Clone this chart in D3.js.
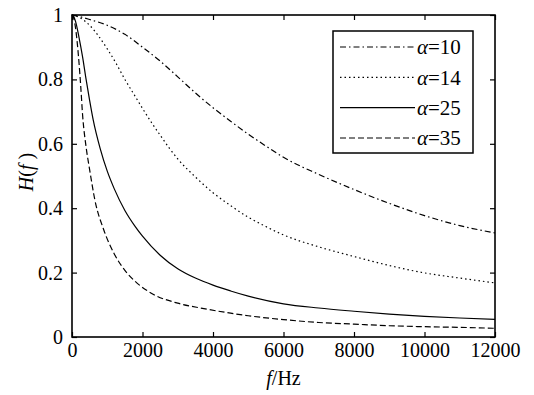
<!DOCTYPE html>
<html>
<head>
<meta charset="utf-8">
<script src="https://cdn.jsdelivr.net/npm/d3@7"></script>
</head>
<body style="margin:0">
<script>
// tick values and labels
const xTicks = [0, 2000, 4000, 6000, 8000, 10000, 12000];
const yTicks = [0, 0.2, 0.4, 0.6, 0.8, 1];
const yTickLabels = ["0", "0.2", "0.4", "0.6", "0.8", "1"];

// legend names
const alphaNames = ["10", "14", "25", "35"];

// alpha = 10 (dash-dot)
const f10 = [0, 250, 500, 1000, 1500, 2000, 2500, 3000, 3500, 4000, 4500, 5000, 5500, 6000, 7000, 8000, 9000, 10000, 11000, 12000];
const h10 = [1.0, 0.994, 0.986, 0.968, 0.94, 0.90, 0.857, 0.808, 0.758, 0.712, 0.67, 0.63, 0.593, 0.558, 0.505, 0.458, 0.415, 0.377, 0.346, 0.323];

// alpha = 14 (dotted)
const f14 = [0, 250, 500, 750, 1000, 1250, 1500, 1750, 2000, 2250, 2500, 2750, 3000, 3500, 4000, 4500, 5000, 5500, 6000, 7000, 8000, 9000, 10000, 11000, 12000];
const h14 = [1.0, 0.99, 0.968, 0.935, 0.895, 0.85, 0.80, 0.755, 0.71, 0.667, 0.627, 0.588, 0.553, 0.497, 0.448, 0.408, 0.372, 0.343, 0.317, 0.28, 0.25, 0.222, 0.199, 0.183, 0.168];

// alpha = 25 (solid)
const f25 = [0, 50, 100, 200, 300, 400, 500, 600, 800, 1000, 1200, 1500, 1800, 2000, 2500, 3000, 3500, 4000, 4500, 5000, 6000, 7000, 8000, 9000, 10000, 11000, 12000];
const h25 = [1.0, 0.995, 0.98, 0.93, 0.87, 0.80, 0.735, 0.675, 0.585, 0.515, 0.46, 0.393, 0.342, 0.313, 0.254, 0.212, 0.183, 0.161, 0.143, 0.127, 0.103, 0.09, 0.08, 0.071, 0.064, 0.059, 0.055];

// alpha = 35 (dashed)
const f35 = [0, 50, 100, 200, 250, 300, 400, 500, 650, 900, 1200, 1500, 1800, 2300, 3000, 3700, 4500, 5000, 6000, 7000, 8000, 9000, 10000, 11000, 12000];
const h35 = [1.0, 0.99, 0.96, 0.85, 0.775, 0.69, 0.59, 0.52, 0.425, 0.333, 0.258, 0.207, 0.172, 0.133, 0.105, 0.089, 0.074, 0.066, 0.054, 0.045, 0.04, 0.035, 0.032, 0.03, 0.027];

const series = [
    {name: alphaNames[0], f: f10, h: h10, dash: "6,3,1.5,3"},
    {name: alphaNames[1], f: f14, h: h14, dash: "1.5,3"},
    {name: alphaNames[2], f: f25, h: h25, dash: null},
    {name: alphaNames[3], f: f35, h: h35, dash: "6,3"}
];

const fam = "Liberation Serif";
const serif = `'${fam}'`;

const width = 534, height = 395;
const margin = {top: 15, right: 39, bottom: 58, left: 72};
const w = width - margin.left - margin.right;
const h = height - margin.top - margin.bottom;

const svg = d3.select("body").append("svg")
    .attr("width", width)
    .attr("height", height);

const g = svg.append("g")
    .attr("transform", `translate(${margin.left},${margin.top})`);

const x = d3.scaleLinear().domain([0, 12000]).range([0, w]);
const y = d3.scaleLinear().domain([0, 1]).range([h, 0]);

// curves
const line = d3.line()
    .x(d => x(d[0]))
    .y(d => y(d[1]))
    .curve(d3.curveMonotoneX);

series.forEach(s => {
    g.append("path")
        .datum(s.f.map((v, i) => [v, s.h[i]]))
        .attr("fill", "none")
        .attr("stroke", "#000")
        .attr("stroke-width", 1.2)
        .attr("stroke-dasharray", s.dash)
        .attr("d", line);
});

// axes, ticks pointing inward
const fontSize = 20;
const xAxis = g.append("g")
    .attr("transform", `translate(0,${h})`)
    .call(d3.axisBottom(x).tickValues(xTicks).tickFormat(d3.format("d"))
        .tickSizeInner(-5).tickSizeOuter(0).tickPadding(6));
const yAxis = g.append("g")
    .call(d3.axisLeft(y).tickValues(yTicks).tickFormat((d, i) => yTickLabels[i])
        .tickSizeInner(-5).tickSizeOuter(0).tickPadding(9));
const topAxis = g.append("g")
    .call(d3.axisTop(x).tickValues(xTicks).tickFormat("")
        .tickSizeInner(-5).tickSizeOuter(0));
const rightAxis = g.append("g")
    .attr("transform", `translate(${w},0)`)
    .call(d3.axisRight(y).tickValues(yTicks).tickFormat("")
        .tickSizeInner(-5).tickSizeOuter(0));

[xAxis, yAxis, topAxis, rightAxis].forEach(a => {
    a.attr("font-family", null).attr("font-size", null);
    a.select(".domain").remove();
    a.selectAll("line").attr("stroke", "#000").attr("stroke-width", 1.2);
    a.selectAll("text")
        .style("font-family", serif)
        .style("font-size", fontSize + "px")
        .attr("fill", "#000");
});

// frame
g.append("rect")
    .attr("width", w)
    .attr("height", h)
    .attr("fill", "none")
    .attr("stroke", "#000")
    .attr("stroke-width", 1.6);

// axis titles
const xTitle = svg.append("text")
    .attr("x", margin.left + w / 2)
    .attr("y", 385)
    .attr("text-anchor", "middle")
    .style("font-family", serif)
    .style("font-size", "20px");
xTitle.append("tspan").style("font-style", "italic").text("f");
xTitle.append("tspan").text("/Hz");

const yTitle = svg.append("text")
    .attr("transform", `translate(33,${margin.top + h / 2 - 4}) rotate(-90)`)
    .attr("text-anchor", "middle")
    .style("font-family", serif)
    .style("font-size", "20px");
yTitle.append("tspan").style("font-style", "italic").text("H");
yTitle.append("tspan").text("(");
yTitle.append("tspan").style("font-style", "italic").text("f");
yTitle.append("tspan").text(" )");

// legend
const legend = svg.append("g")
    .attr("transform", "translate(333,31)");

legend.append("rect")
    .attr("width", 140)
    .attr("height", 122)
    .attr("fill", "#fff")
    .attr("stroke", "#000")
    .attr("stroke-width", 1.5);

const rowY = d3.scalePoint().domain(alphaNames).range([16, 107]);

series.forEach(s => {
    const row = legend.append("g")
        .attr("transform", `translate(0,${rowY(s.name)})`);
    row.append("line")
        .attr("x1", 7).attr("x2", 82)
        .attr("stroke", "#000")
        .attr("stroke-width", 1.2)
        .attr("stroke-dasharray", s.dash);
    const t = row.append("text")
        .attr("x", 84)
        .attr("dy", "0.35em")
        .style("font-family", serif)
        .style("font-size", "21px");
    t.append("tspan").style("font-style", "italic").text("α");
    t.append("tspan").text("=" + s.name);
});
</script>
</body>
</html>
